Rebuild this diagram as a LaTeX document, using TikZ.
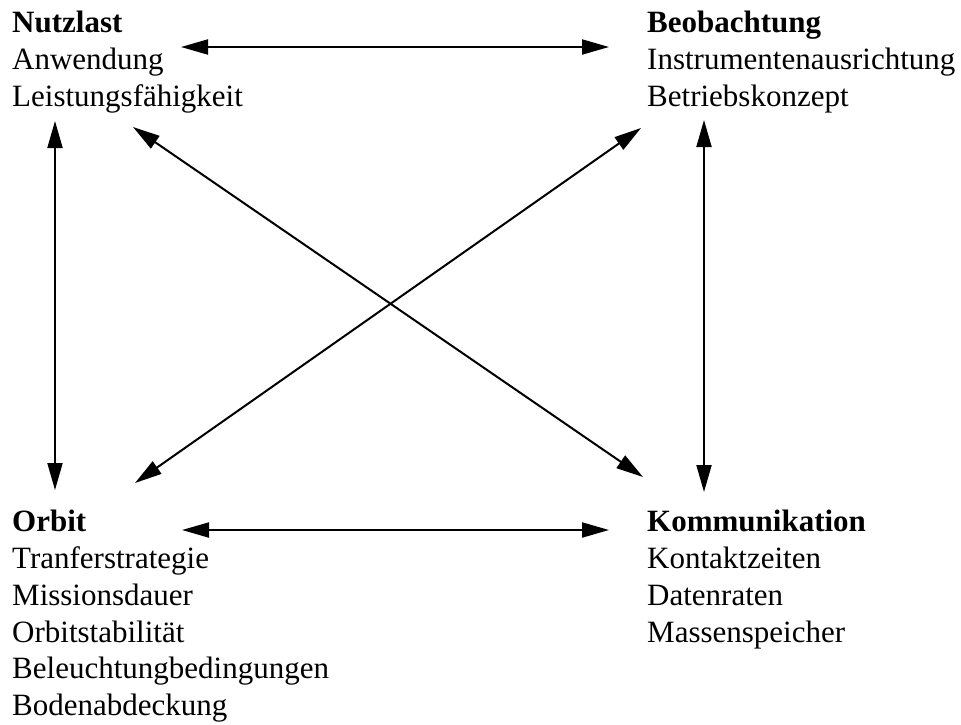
\documentclass[tikz,border=0pt]{standalone}
\usepackage{fontspec}
\setmainfont{Liberation Serif}
\usetikzlibrary{arrows.meta}
\begin{document}
\begin{tikzpicture}[x=1pt,y=-1pt,
  block/.style={anchor=north west,inner sep=0pt,align=left,font=\fontsize{31}{36.8}\selectfont},
  link/.style={line width=2pt,{Triangle[length=27pt,width=15pt]}-{Triangle[length=27pt,width=15pt]}}]
\useasboundingbox (0,0) rectangle (961,724);
\node[block] (nutz) at (12,11) {\textbf{Nutzlast}\\Anwendung\\Leistungsfähigkeit};
\node[block] (beob) at (647,11) {\textbf{Beobachtung}\\Instrumentenausrichtung\\Betriebskonzept};
\node[block] (orbit) at (12,510) {\textbf{Orbit}\\Tranferstrategie\\Missionsdauer\\Orbitstabilität\\Beleuchtungbedingungen\\Bodenabdeckung};
\node[block] (komm) at (647,510) {\textbf{Kommunikation}\\Kontaktzeiten\\Datenraten\\Massenspeicher};
% connector end points
\coordinate (nR) at (181,47);
\coordinate (nD) at (55,121);
\coordinate (nX) at (133,127);
\coordinate (bL) at (609,47);
\coordinate (bD) at (704,120);
\coordinate (bX) at (641,128);
\coordinate (oU) at (55,490);
\coordinate (oR) at (182,530);
\coordinate (oX) at (135,483);
\coordinate (kL) at (609,530);
\coordinate (kU) at (704,492);
\coordinate (kX) at (643,477);
\draw[link] (nR) -- (bL);
\draw[link] (nD) -- (oU);
\draw[link] (bD) -- (kU);
\draw[link] (oR) -- (kL);
\draw[link] (nX) -- (kX);
\draw[link] (bX) -- (oX);
\end{tikzpicture}
\end{document}
